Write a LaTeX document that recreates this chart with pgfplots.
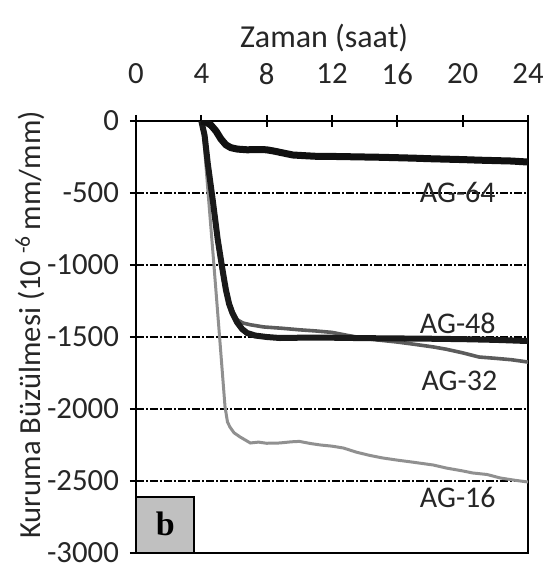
\documentclass[border=0pt]{standalone}
\usepackage{fontspec}
\setmainfont{Carlito}
\newfontfamily\serifb{Liberation Serif}
\usepackage{pgfplots}
\pgfplotsset{compat=1.18}

\definecolor{agsixtyfour}{HTML}{101010}
\definecolor{agfortyeight}{HTML}{1A1A1A}
\definecolor{agthirtytwo}{HTML}{5C5C5C}
\definecolor{agsixteen}{HTML}{909090}
\definecolor{boxgray}{HTML}{C0C0C0}

\begin{document}
\begin{tikzpicture}
\begin{axis}[
  name=main,
  at={(0,0)}, anchor=south west,
  scale only axis,
  width=196pt, height=216pt,
  xmin=0, xmax=24, ymin=-3000, ymax=0,
  xtick={0,4,...,24},
  ytick={-3000,-2500,...,0},
  xtick pos=upper, xticklabel pos=upper,
  ytick pos=left,
  tick align=center,
  major tick length=6pt,
  axis line style={line width=1pt},
  every tick/.style={black, line width=1pt},
  ymajorgrids,
  major grid style={black, line width=0.8pt, dash pattern=on 4pt off 1pt on 1pt off 1pt},
  /pgf/number format/assume math mode=true,
  /pgf/number format/1000 sep={},
  tick label style={font=\fontsize{15.4}{17}\selectfont, text=black!85},
  xticklabel style={anchor=center, yshift=20.5pt},
  yticklabel style={xshift=-2pt},
  xlabel={Zaman (saat)},
  xlabel style={font=\fontsize{16}{18}\selectfont, text=black!85,
    at={(rel axis cs:0.48,1)}, anchor=center, yshift=41.5pt},
  ylabel={Kuruma Büzülmesi (10 \textsuperscript{-6}\,mm/mm)},
  ylabel style={font=\fontsize{15.3}{17}\selectfont, text=black!85,
    at={(rel axis cs:0,0.528)}, anchor=center, yshift=53pt},
  clip=true,
]
% shaded panel tag in the lower left corner
\draw[fill=boxgray, line width=0.8pt] (axis cs:0,-3000) rectangle (axis cs:3.55,-2611);
\node[font=\serifb\bfseries\fontsize{17}{19}\selectfont] at (axis cs:1.8,-2800) {b};

% AG-16
\addplot[agsixteen, line width=1.5pt] coordinates {
 (4,0) (4.1,-50) (4.4,-480) (4.7,-900) (4.94,-1243) (5.2,-1620) (5.45,-1984)
 (5.6,-2090) (5.75,-2125) (6.0,-2165) (6.37,-2194) (7.0,-2236) (7.5,-2230)
 (8,-2238) (8.8,-2236) (9.5,-2228) (10,-2225) (10.7,-2240) (11.3,-2250)
 (12,-2258) (12.7,-2271) (13.5,-2300) (14.3,-2322) (15.1,-2340) (16,-2355)
 (17,-2370) (18.2,-2389) (19,-2410) (20,-2430) (20.6,-2444) (21.5,-2455)
 (22.3,-2479) (23.2,-2495) (24,-2507)
};
% AG-32
\addplot[agthirtytwo, line width=1.8pt] coordinates {
 (4,0) (4.2,-90) (4.4,-280) (4.65,-520) (4.95,-800) (5.2,-1000) (5.45,-1160)
 (5.7,-1270) (5.9,-1330) (6.2,-1380) (6.55,-1403) (7,-1415) (7.8,-1430)
 (9,-1440) (10,-1450) (11,-1458) (12,-1468) (13,-1490) (14,-1510)
 (14.75,-1520) (16,-1535) (17,-1550) (18.2,-1569) (19,-1585) (20,-1610)
 (21,-1639) (22,-1648) (23,-1658) (24,-1674)
};
% AG-48
\addplot[agfortyeight, line width=3pt] coordinates {
 (4,0) (4.2,-100) (4.4,-300) (4.7,-550) (5.0,-820) (5.27,-1014) (5.5,-1170)
 (5.7,-1270) (5.9,-1333) (6.2,-1400) (6.5,-1445) (6.8,-1472) (7.3,-1490)
 (8,-1500) (8.8,-1507) (10,-1505) (12,-1505) (14,-1508) (16,-1510)
 (18,-1512) (20,-1515) (22,-1520) (24,-1528)
};
% AG-64
\addplot[agsixtyfour, line width=3.5pt] coordinates {
 (4,0) (4.3,-8) (4.6,-30) (4.9,-70) (5.2,-125) (5.5,-165) (5.8,-185)
 (6.2,-195) (6.8,-200) (7.5,-198) (8,-200) (8.5,-210) (9,-222) (9.6,-236)
 (10.5,-242) (11,-245) (12,-246) (13,-248) (14,-250) (15,-252) (16,-255)
 (17,-258) (18,-262) (19,-265) (20,-268) (21,-272) (22,-275) (23,-278)
 (24,-285)
};

\node[font=\fontsize{15}{17}\selectfont, text=black!85] at (axis cs:19.7,-493) {AG-64};
\node[font=\fontsize{15}{17}\selectfont, text=black!85] at (axis cs:19.7,-1403) {AG-48};
\node[font=\fontsize{15}{17}\selectfont, text=black!85] at (axis cs:19.8,-1806) {AG-32};
\node[font=\fontsize{15}{17}\selectfont, text=black!85] at (axis cs:19.7,-2611) {AG-16};
\end{axis}
\pgfresetboundingbox
\path[use as bounding box] (-68pt,-9.5pt) rectangle (203pt,276.5pt);
\end{tikzpicture}
\end{document}
